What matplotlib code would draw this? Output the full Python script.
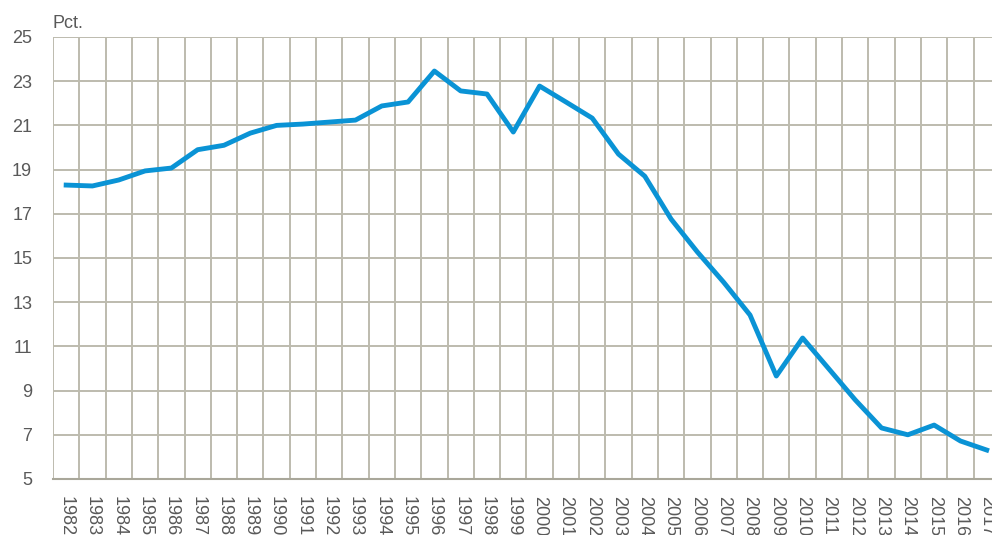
import numpy as np
import matplotlib.pyplot as plt
from matplotlib import font_manager

# Share (pct.) by year
years = list(range(1982, 2018))
pct = [18.30, 18.26, 18.53, 18.94, 19.07, 19.90, 20.10, 20.65, 21.00, 21.06,
       21.15, 21.24, 21.88, 22.06, 23.46, 22.56, 22.42, 20.70, 22.78, 22.06,
       21.33, 19.70, 18.70, 16.76, 15.27, 13.90, 12.42, 9.66, 11.38, 9.98,
       8.58, 7.31, 7.00, 7.44, 6.72, 6.31]
y_ticks = [5, 7, 9, 11, 13, 15, 17, 19, 21, 23, 25]

# narrow font if available (metric twin of Arial Narrow)
names = {f.name for f in font_manager.fontManager.ttflist}
if 'Liberation Sans Narrow' in names:
    fam, fs = 'Liberation Sans Narrow', 16
else:
    fam, fs = 'Liberation Sans', 13
plt.rcParams['font.family'] = [fam, 'DejaVu Sans']

text_col = '#595959'
grid_col = '#bdbbae'

fig = plt.figure(figsize=(9.92, 5.35), dpi=100)
ax = fig.add_axes([53 / 992, 1 - 479 / 535, 1 - 53 / 992, (479 - 37) / 535])

x = np.arange(len(years))
ax.plot(x, pct, color='#0a93d5', lw=3.5, zorder=3)

ax.set_ylim(5, 25)
ax.set_yticks(y_ticks)
ax.set_xlim(-0.5, 35.2)
ax.set_xticks(x)
ax.set_xticklabels([str(y) for y in years], rotation=-90, va='top', ha='center')

ax.grid(False)
for v in np.arange(-0.5, len(years), 1):
    ax.axvline(v, color=grid_col, lw=1.4, zorder=1)
for t in y_ticks[1:]:
    ax.axhline(t, color=grid_col, lw=1.4, zorder=1)

for s in ['top', 'right', 'left']:
    ax.spines[s].set_visible(False)
ax.spines['bottom'].set_color('#a9a79a')
ax.spines['bottom'].set_linewidth(1.5)

ax.tick_params(axis='both', which='both', length=0, colors=text_col, labelsize=fs)
ax.tick_params(axis='y', pad=15)
ax.tick_params(axis='x', pad=12)

fig.text(53 / 992, 1 - 23 / 535, 'Pct.', color=text_col, fontsize=fs,
         ha='left', va='center')

fig.savefig('out.png', dpi=100)
